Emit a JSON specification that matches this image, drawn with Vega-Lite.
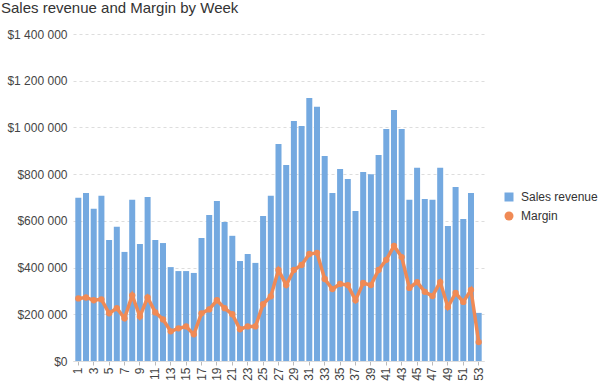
{
  "$schema": "https://vega.github.io/schema/vega-lite/v6.json",
  "width": 411,
  "height": 327,
  "autosize": {"type": "none"},
  "padding": {"left": 73, "top": 34, "right": 124, "bottom": 26},
  "background": "white",
  "config": {
    "view": {"stroke": null},
    "font": "Liberation Sans"
  },
  "title": {
    "text": "Sales revenue and Margin by Week",
    "anchor": "start",
    "frame": "group",
    "fontSize": 15,
    "fontWeight": "normal",
    "color": "#333333",
    "dx": -72,
    "offset": 12
  },
  "data": {
    "values": [
      {"week": 1, "sales": 699000, "margin": 268000},
      {"week": 2, "sales": 719000, "margin": 272000},
      {"week": 3, "sales": 652000, "margin": 260000},
      {"week": 4, "sales": 707000, "margin": 264000},
      {"week": 5, "sales": 518000, "margin": 204000},
      {"week": 6, "sales": 575000, "margin": 226000},
      {"week": 7, "sales": 467000, "margin": 183000},
      {"week": 8, "sales": 690000, "margin": 281000},
      {"week": 9, "sales": 501000, "margin": 191000},
      {"week": 10, "sales": 702000, "margin": 272000},
      {"week": 11, "sales": 518000, "margin": 208000},
      {"week": 12, "sales": 505000, "margin": 178000},
      {"week": 13, "sales": 402000, "margin": 127000},
      {"week": 14, "sales": 385000, "margin": 140000},
      {"week": 15, "sales": 385000, "margin": 148000},
      {"week": 16, "sales": 377000, "margin": 114000},
      {"week": 17, "sales": 527000, "margin": 204000},
      {"week": 18, "sales": 625000, "margin": 221000},
      {"week": 19, "sales": 685000, "margin": 260000},
      {"week": 20, "sales": 595000, "margin": 226000},
      {"week": 21, "sales": 536000, "margin": 200000},
      {"week": 22, "sales": 428000, "margin": 136000},
      {"week": 23, "sales": 458000, "margin": 148000},
      {"week": 24, "sales": 420000, "margin": 148000},
      {"week": 25, "sales": 621000, "margin": 243000},
      {"week": 26, "sales": 707000, "margin": 277000},
      {"week": 27, "sales": 929000, "margin": 390000},
      {"week": 28, "sales": 839000, "margin": 325000},
      {"week": 29, "sales": 1028000, "margin": 390000},
      {"week": 30, "sales": 1006000, "margin": 411000},
      {"week": 31, "sales": 1126000, "margin": 458000},
      {"week": 32, "sales": 1088000, "margin": 463000},
      {"week": 33, "sales": 878000, "margin": 351000},
      {"week": 34, "sales": 719000, "margin": 308000},
      {"week": 35, "sales": 822000, "margin": 330000},
      {"week": 36, "sales": 779000, "margin": 325000},
      {"week": 37, "sales": 642000, "margin": 260000},
      {"week": 38, "sales": 809000, "margin": 334000},
      {"week": 39, "sales": 800000, "margin": 325000},
      {"week": 40, "sales": 882000, "margin": 390000},
      {"week": 41, "sales": 993000, "margin": 433000},
      {"week": 42, "sales": 1075000, "margin": 493000},
      {"week": 43, "sales": 993000, "margin": 445000},
      {"week": 44, "sales": 690000, "margin": 313000},
      {"week": 45, "sales": 827000, "margin": 338000},
      {"week": 46, "sales": 694000, "margin": 296000},
      {"week": 47, "sales": 690000, "margin": 278000},
      {"week": 48, "sales": 827000, "margin": 338000},
      {"week": 49, "sales": 578000, "margin": 231000},
      {"week": 50, "sales": 745000, "margin": 291000},
      {"week": 51, "sales": 608000, "margin": 253000},
      {"week": 52, "sales": 719000, "margin": 304000},
      {"week": 53, "sales": 206000, "margin": 81000}
    ]
  },
  "encoding": {
    "x": {
      "field": "week",
      "type": "ordinal",
      "scale": {"paddingInner": 0.22, "paddingOuter": 0.3},
      "axis": {
        "title": null,
        "values": [1,3,5,7,9,11,13,15,17,19,21,23,25,27,29,31,33,35,37,39,41,43,45,47,49,51,53],
        "labelAngle": -90,
        "labelFontSize": 12,
        "labelColor": "#444444",
        "labelPadding": 2,
        "tickSize": 4,
        "tickColor": "#bbbbbb",
        "domainColor": "#dddddd",
        "grid": false
      }
    }
  },
  "layer": [
    {
      "mark": {"type": "bar", "color": "#74a9e0"},
      "encoding": {
        "y": {
          "field": "sales",
          "type": "quantitative",
          "scale": {"domain": [0, 1400000]},
          "axis": {
            "title": null,
            "values": [0, 200000, 400000, 600000, 800000, 1000000, 1200000, 1400000],
            "labelExpr": "'$' + replace(format(datum.value, ','), regexp(',', 'g'), ' ')",
            "labelFontSize": 12,
            "labelColor": "#444444",
            "labelPadding": 6,
            "ticks": false,
            "domain": false,
            "grid": true,
            "gridColor": "#dddddd",
            "gridDash": [3, 3]
          }
        },
        "color": {
          "datum": "Sales revenue",
          "scale": {"domain": ["Sales revenue", "Margin"], "range": ["#74a9e0", "#f08a55"]},
          "legend": {
            "title": null,
            "orient": "none",
            "legendX": 430,
            "legendY": 157,
            "padding": 0,
            "labelFontSize": 12,
            "labelColor": "#333333",
            "symbolSize": 81,
            "rowPadding": 7,
            "labelOffset": 6,
            "encode": {
              "symbols": {
                "update": {
                  "shape": {"signal": "datum.value == 'Margin' ? 'circle' : 'square'"},
                  "strokeWidth": {"value": 0}
                }
              }
            }
          }
        }
      }
    },
    {
      "mark": {"type": "line", "color": "#f08a55", "strokeWidth": 3.5, "point": {"filled": true, "size": 40, "color": "#f08a55"}},
      "encoding": {
        "y": {"field": "margin", "type": "quantitative"},
        "color": {"datum": "Margin"}
      }
    }
  ]
}
